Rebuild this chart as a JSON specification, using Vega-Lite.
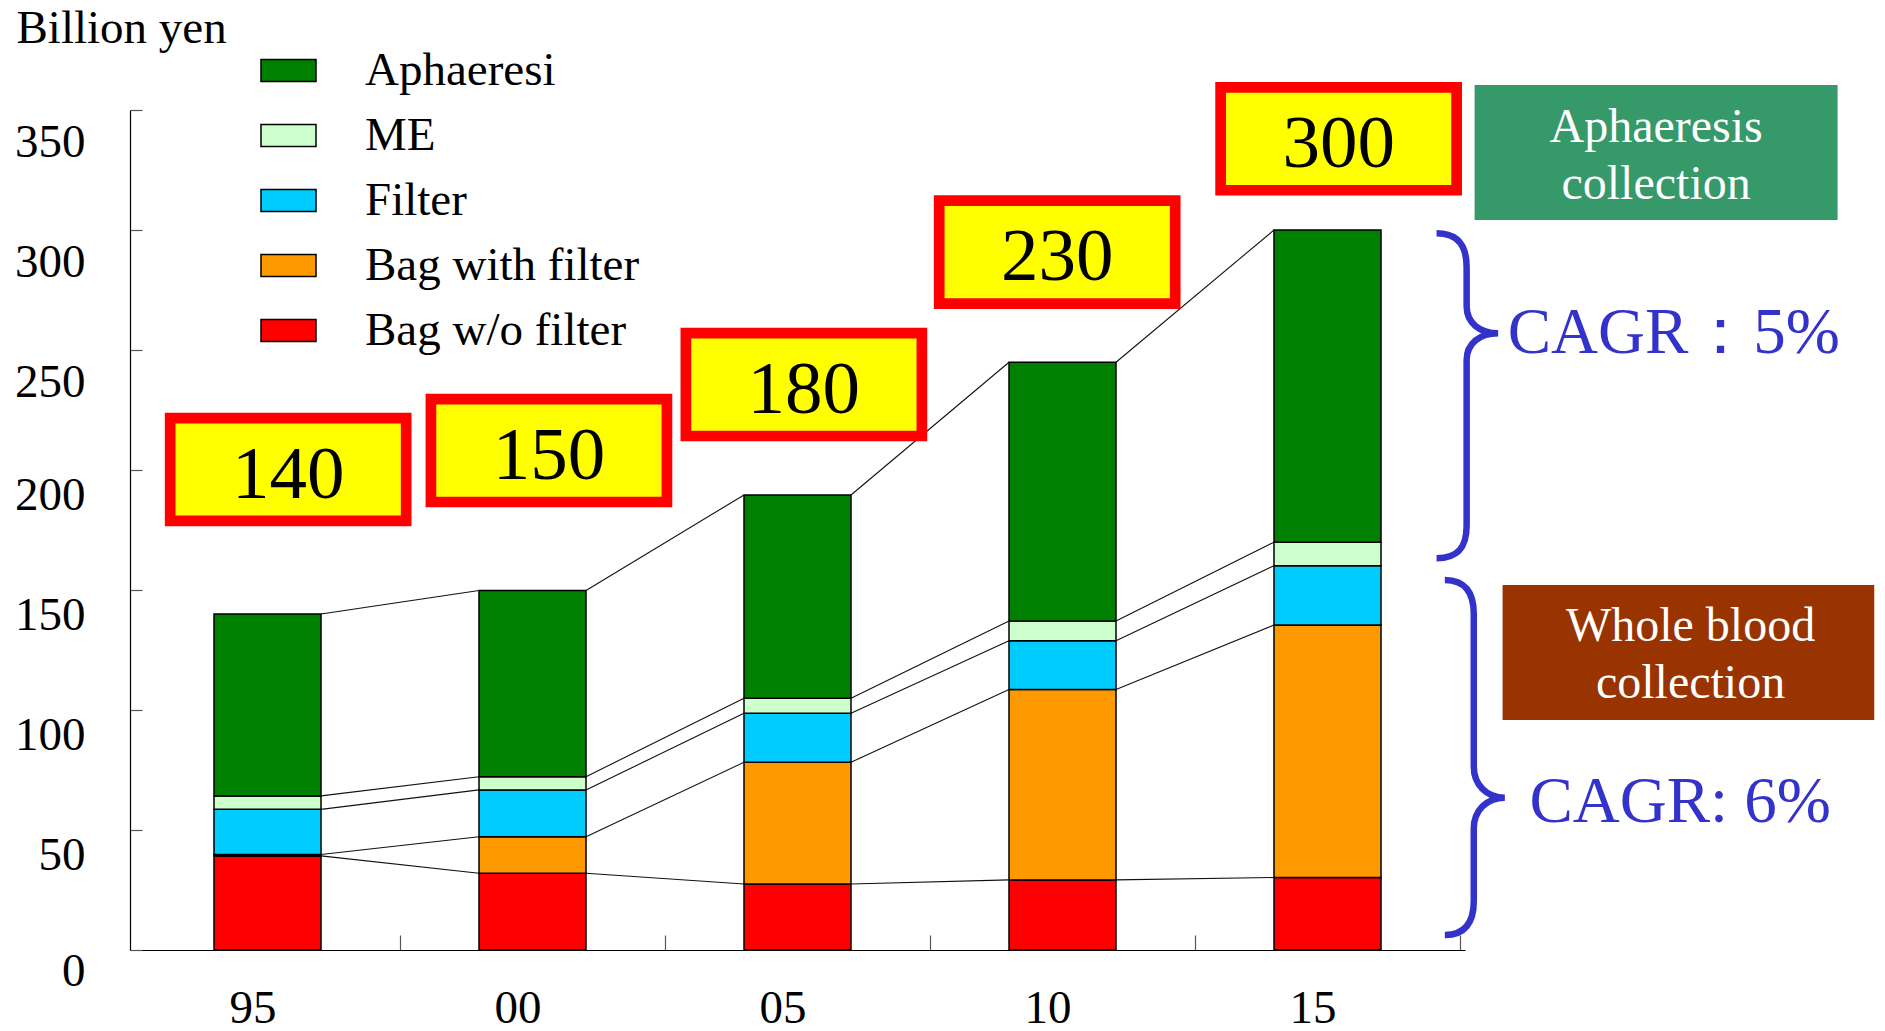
{
  "$schema": "https://vega.github.io/schema/vega-lite/v6.json",
  "width": 1335,
  "height": 840,
  "autosize": {"type": "none"},
  "padding": {"left": 130, "top": 110, "right": 420, "bottom": 81},
  "background": "white",
  "config": {"font": "Liberation Serif", "view": {"stroke": null}, "axis": {"grid": false}},
  "datasets": {
    "blood": [
      {"year": 1995, "cat": "Bag w/o filter", "value": 39.2, "order": 1},
      {"year": 1995, "cat": "Bag with filter", "value": 0.6, "order": 2},
      {"year": 1995, "cat": "Filter", "value": 18.8, "order": 3},
      {"year": 1995, "cat": "ME", "value": 5.6, "order": 4},
      {"year": 1995, "cat": "Aphaeresi", "value": 75.8, "order": 5},
      {"year": 2000, "cat": "Bag w/o filter", "value": 32.0, "order": 1},
      {"year": 2000, "cat": "Bag with filter", "value": 15.2, "order": 2},
      {"year": 2000, "cat": "Filter", "value": 19.5, "order": 3},
      {"year": 2000, "cat": "ME", "value": 5.5, "order": 4},
      {"year": 2000, "cat": "Aphaeresi", "value": 77.6, "order": 5},
      {"year": 2005, "cat": "Bag w/o filter", "value": 27.5, "order": 1},
      {"year": 2005, "cat": "Bag with filter", "value": 50.7, "order": 2},
      {"year": 2005, "cat": "Filter", "value": 20.4, "order": 3},
      {"year": 2005, "cat": "ME", "value": 6.3, "order": 4},
      {"year": 2005, "cat": "Aphaeresi", "value": 84.7, "order": 5},
      {"year": 2010, "cat": "Bag w/o filter", "value": 29.2, "order": 1},
      {"year": 2010, "cat": "Bag with filter", "value": 79.3, "order": 2},
      {"year": 2010, "cat": "Filter", "value": 20.4, "order": 3},
      {"year": 2010, "cat": "ME", "value": 8.2, "order": 4},
      {"year": 2010, "cat": "Aphaeresi", "value": 107.8, "order": 5},
      {"year": 2015, "cat": "Bag w/o filter", "value": 30.2, "order": 1},
      {"year": 2015, "cat": "Bag with filter", "value": 105.2, "order": 2},
      {"year": 2015, "cat": "Filter", "value": 24.7, "order": 3},
      {"year": 2015, "cat": "ME", "value": 9.8, "order": 4},
      {"year": 2015, "cat": "Aphaeresi", "value": 130.1, "order": 5}
    ],
    "totals": [
      {"label": "140", "lx": 1995.39, "ly": 200.2},
      {"label": "150", "lx": 2000.31, "ly": 208.1},
      {"label": "180", "lx": 2005.12, "ly": 235.6},
      {"label": "230", "lx": 2009.9, "ly": 290.8},
      {"label": "300", "lx": 2015.21, "ly": 338.0}
    ],
    "boxtext_green": [
      {"text": "Aphaeresis", "nx": 2021.2, "ny": 336.8},
      {"text": "collection", "nx": 2021.2, "ny": 312.9}
    ],
    "boxtext_brown": [
      {"text": "Whole blood", "nx": 2021.85, "ny": 128.75},
      {"text": "collection", "nx": 2021.85, "ny": 104.9}
    ],
    "greenbox": [{"name": "Aphaeresis collection", "nx": 2021.2, "ny": 332.3}],
    "brownbox": [{"name": "Whole blood collection", "nx": 2021.81, "ny": 123.96}],
    "brace1": [{"name": "upper", "nx": 2017.625, "ny": 230.96}],
    "brace2": [{"name": "lower", "nx": 2017.76, "ny": 80.2}],
    "cagr": [
      {"text": "CAGR：5%", "nx": 2018.4, "ny": 248.9},
      {"text": "CAGR: 6%", "nx": 2018.81, "ny": 53.46}
    ]
  },
  "layer": [
    {
      "data": {"name": "blood"},
      "transform": [
        {"stack": "value", "groupby": ["year"], "sort": [{"field": "order"}], "as": ["v0", "v1"]}
      ],
      "mark": {"type": "bar", "width": 107, "stroke": "black", "strokeWidth": 1.5, "opacity": 1},
      "encoding": {
        "x": {
          "field": "year", "type": "quantitative",
          "scale": {"domain": [1992.5, 2017.5], "nice": false, "zero": false},
          "axis": {
            "values": [1995, 1997.5, 2000, 2002.5, 2005, 2007.5, 2010, 2012.5, 2015, 2017.5],
            "labelExpr": "datum.value % 5 == 0 ? substring(toString(datum.value), 2) : ''",
            "title": null,
            "tickSize": -15, "tickColor": "#555", "tickWidth": 1.2,
            "tickOpacity": {"condition": {"test": "datum.value % 5 == 0", "value": 0}, "value": 1},
            "domainColor": "black", "domainWidth": 1.2,
            "labelFontSize": 47, "labelColor": "black", "labelFont": "Liberation Serif",
            "labelPadding": 50, "labelOffset": -15,
            "labelFlush": false, "labelOverlap": false, "labelBound": false, "grid": false
          }
        },
        "y": {
          "field": "v0", "type": "quantitative",
          "scale": {"domain": [0, 350], "nice": false, "zero": false},
          "axis": {
            "values": [0, 50, 100, 150, 200, 250, 300, 350],
            "title": "Billion yen", "titleAngle": 0, "titleAlign": "left", "titleBaseline": "alphabetic",
            "titleX": -114, "titleY": -68, "titleFontSize": 47, "titleFontWeight": "normal",
            "titleColor": "black", "titleFont": "Liberation Serif",
            "tickSize": -12, "tickColor": "#555", "tickWidth": 1.2,
            "domainColor": "black", "domainWidth": 1.2,
            "labelFontSize": 47, "labelColor": "black", "labelFont": "Liberation Serif",
            "labelPadding": 57,
            "labelOffset": {"condition": [{"test": "datum.value >= 250", "value": 32}, {"test": "datum.value >= 50", "value": 25}], "value": 21.4},
            "labelFlush": false, "labelOverlap": false, "labelBound": false, "grid": false
          }
        },
        "y2": {"field": "v1"},
        "color": {
          "field": "cat", "type": "nominal",
          "scale": {
            "domain": ["Aphaeresi", "ME", "Filter", "Bag with filter", "Bag w/o filter"],
            "range": ["#008000", "#CCFFCC", "#00CCFF", "#FF9900", "#FF0000"]
          },
          "legend": {
            "orient": "none", "legendX": 130, "legendY": -68, "title": null,
            "symbolType": "M-1,-0.4L1,-0.4L1,0.4L-1,0.4Z", "symbolSize": 3025,
            "symbolStrokeColor": "black", "symbolStrokeWidth": 1.5, "symbolOpacity": 1,
            "labelFontSize": 47, "labelFont": "Liberation Serif", "labelColor": "black",
            "labelOffset": 48, "rowPadding": 13, "labelLimit": 600
          }
        }
      }
    },
    {
      "data": {"name": "blood"},
      "transform": [
        {"stack": "value", "groupby": ["year"], "sort": [{"field": "order"}], "as": ["v0", "v1"]},
        {"window": [{"op": "lead", "field": "v1", "as": "nv1"}, {"op": "lead", "field": "year", "as": "nyear"}],
         "groupby": ["cat"], "sort": [{"field": "year", "order": "ascending"}]},
        {"filter": "datum.nyear != null"}
      ],
      "mark": {"type": "rule", "xOffset": 53.5, "x2Offset": -53.5, "stroke": "#111", "strokeWidth": 1.1},
      "encoding": {
        "x": {"field": "year", "type": "quantitative"},
        "x2": {"field": "nyear"},
        "y": {"field": "v1", "type": "quantitative"},
        "y2": {"field": "nv1"}
      }
    },
    {
      "data": {"name": "totals"},
      "mark": {"type": "point", "shape": "M-1,-0.436L1,-0.436L1,0.436L-1,0.436Z", "size": 55696,
               "filled": true, "fill": "#FFFF00", "stroke": "#FF0000", "strokeWidth": 10.7, "opacity": 1},
      "encoding": {
        "x": {"field": "lx", "type": "quantitative"},
        "y": {"field": "ly", "type": "quantitative"}
      }
    },
    {
      "data": {"name": "totals"},
      "mark": {"type": "text", "fontSize": 75, "font": "Liberation Serif", "align": "center", "baseline": "alphabetic", "dy": 28, "color": "black"},
      "encoding": {
        "x": {"field": "lx", "type": "quantitative"},
        "y": {"field": "ly", "type": "quantitative"},
        "text": {"field": "label"}
      }
    },
    {
      "data": {"name": "greenbox"},
      "mark": {"type": "point", "shape": "M-1,-0.372L1,-0.372L1,0.372L-1,0.372Z", "size": 131769,
               "filled": true, "fill": "#36996A", "strokeWidth": 0, "opacity": 1},
      "encoding": {
        "x": {"field": "nx", "type": "quantitative"},
        "y": {"field": "ny", "type": "quantitative"}
      }
    },
    {
      "data": {"name": "brownbox"},
      "mark": {"type": "point", "shape": "M-1,-0.363L1,-0.363L1,0.363L-1,0.363Z", "size": 138161,
               "filled": true, "fill": "#993300", "strokeWidth": 0, "opacity": 1},
      "encoding": {
        "x": {"field": "nx", "type": "quantitative"},
        "y": {"field": "ny", "type": "quantitative"}
      }
    },
    {
      "data": {"name": "boxtext_green"},
      "mark": {"type": "text", "fontSize": 48, "font": "Liberation Serif", "align": "center", "baseline": "alphabetic", "color": "white"},
      "encoding": {
        "x": {"field": "nx", "type": "quantitative"},
        "y": {"field": "ny", "type": "quantitative"},
        "text": {"field": "text"}
      }
    },
    {
      "data": {"name": "boxtext_brown"},
      "mark": {"type": "text", "fontSize": 48, "font": "Liberation Serif", "align": "center", "baseline": "alphabetic", "color": "white"},
      "encoding": {
        "x": {"field": "nx", "type": "quantitative"},
        "y": {"field": "ny", "type": "quantitative"},
        "text": {"field": "text"}
      }
    },
    {
      "data": {"name": "brace1"},
      "mark": {"type": "point", "shape": "M-0.185,-1C-0.05,-1 0,-0.92 0,-0.79L0,-0.55C0,-0.45 0.08,-0.384 0.194,-0.384C0.08,-0.384 0,-0.32 0,-0.22L0,0.8C0,0.93 -0.05,1 -0.185,1",
               "size": 105625, "filled": false, "stroke": "#3333CC", "strokeWidth": 6.5, "opacity": 1, "strokeCap": "butt"},
      "encoding": {
        "x": {"field": "nx", "type": "quantitative"},
        "y": {"field": "ny", "type": "quantitative"}
      }
    },
    {
      "data": {"name": "brace2"},
      "mark": {"type": "point", "shape": "M-0.163,-1C-0.05,-1 0,-0.93 0,-0.81L0,0.05C0,0.15 0.07,0.226 0.175,0.226C0.07,0.226 0,0.3 0,0.4L0,0.81C0,0.93 -0.05,1 -0.163,1",
               "size": 126025, "filled": false, "stroke": "#3333CC", "strokeWidth": 6.5, "opacity": 1, "strokeCap": "butt"},
      "encoding": {
        "x": {"field": "nx", "type": "quantitative"},
        "y": {"field": "ny", "type": "quantitative"}
      }
    },
    {
      "data": {"name": "cagr"},
      "mark": {"type": "text", "fontSize": 65, "font": "Liberation Serif", "align": "left", "baseline": "alphabetic", "color": "#3333CC"},
      "encoding": {
        "x": {"field": "nx", "type": "quantitative"},
        "y": {"field": "ny", "type": "quantitative"},
        "text": {"field": "text"}
      }
    }
  ]
}
